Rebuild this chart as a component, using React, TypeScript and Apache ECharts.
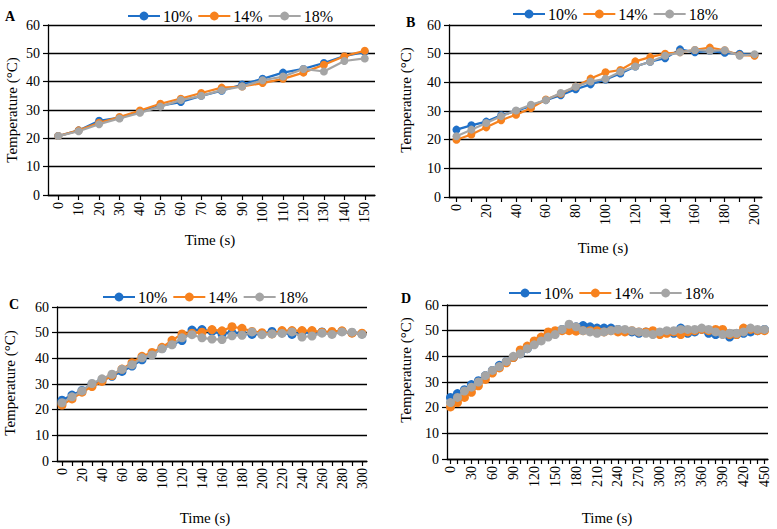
import React, { useEffect, useRef } from "react";
import * as echarts from "echarts";

// Temperature (°C) vs time (s) for three concentrations, four panels.
const seriesNames = ["10%", "14%", "18%"];
const colors = ["#1F70C8", "#F7821E", "#A5A5A5"];

// Panel A: 0–150 s
const timeA = [0, 10, 20, 30, 40, 50, 60, 70, 80, 90, 100, 110, 120, 130, 140, 150];
const a10 = [20.8, 22.8, 26.2, 27.3, 29.5, 31.5, 32.8, 35.0, 36.8, 39.0, 41.0, 43.2, 44.5, 46.6, 49.0, 50.5];
const a14 = [20.8, 22.8, 25.5, 27.5, 29.8, 32.2, 34.0, 36.0, 37.9, 38.3, 39.5, 41.0, 43.2, 46.0, 49.0, 50.9];
const a18 = [20.8, 22.5, 25.0, 27.0, 29.0, 31.2, 33.5, 35.0, 37.0, 38.3, 40.5, 41.8, 44.5, 43.6, 47.3, 48.2];

// Panel B: 0–200 s
const timeB = [0, 10, 20, 30, 40, 50, 60, 70, 80, 90, 100, 110, 120, 130, 140, 150, 160, 170, 180, 190, 200];
const b10 = [23.5, 25.0, 26.3, 28.5, 30.0, 31.8, 33.8, 35.5, 37.6, 39.3, 41.0, 43.1, 45.5, 47.2, 48.4, 51.5, 50.5, 51.0, 50.3, 50.0, 49.5];
const b14 = [20.0, 21.8, 24.3, 26.8, 28.7, 31.0, 34.0, 36.0, 38.5, 41.3, 43.5, 44.3, 47.3, 48.8, 50.0, 50.5, 51.3, 52.1, 51.2, 49.5, 49.3];
const b18 = [21.2, 23.5, 25.8, 28.2, 30.2, 32.2, 33.8, 36.3, 38.5, 40.3, 41.2, 43.7, 45.5, 47.2, 49.3, 50.5, 51.3, 51.0, 51.2, 49.3, 49.8];

// Panel C: 0–300 s
const timeC = [0, 10, 20, 30, 40, 50, 60, 70, 80, 90, 100, 110, 120, 130, 140, 150, 160, 170, 180, 190, 200, 210, 220, 230, 240, 250, 260, 270, 280, 290, 300];
const c10 = [23.7, 25.7, 27.5, 30.0, 31.5, 33.0, 34.9, 37.0, 39.4, 41.5, 43.8, 45.5, 46.9, 51.0, 51.2, 50.5, 49.5, 50.0, 49.5, 49.3, 49.5, 50.5, 50.0, 49.3, 50.0, 50.0, 50.3, 50.0, 50.5, 50.0, 49.5];
const c14 = [21.8, 24.2, 26.8, 29.0, 31.0, 33.3, 35.8, 38.3, 40.8, 42.3, 44.3, 47.0, 49.5, 49.8, 50.2, 51.2, 50.7, 52.3, 51.7, 50.5, 50.0, 49.5, 50.8, 50.8, 50.8, 50.8, 50.2, 50.5, 50.7, 49.8, 49.8];
const c18 = [22.7, 25.0, 27.3, 30.2, 32.0, 33.8, 35.7, 37.5, 40.2, 41.3, 43.7, 45.3, 48.0, 49.2, 48.0, 47.5, 47.3, 48.8, 49.0, 50.3, 49.2, 49.5, 49.7, 50.3, 48.3, 48.7, 49.8, 49.3, 50.3, 50.2, 49.3];

// Panel D: 0–450 s
const timeD = [0, 10, 20, 30, 40, 50, 60, 70, 80, 90, 100, 110, 120, 130, 140, 150, 160, 170, 180, 190, 200, 210, 220, 230, 240, 250, 260, 270, 280, 290, 300, 310, 320, 330, 340, 350, 360, 370, 380, 390, 400, 410, 420, 430, 440, 450];
const d10 = [24.0, 25.5, 27.0, 29.0, 30.5, 32.5, 34.5, 36.5, 38.0, 39.5, 41.0, 43.0, 45.0, 47.0, 48.5, 49.5, 50.5, 51.0, 51.5, 52.0, 51.5, 51.0, 51.0, 51.0, 50.5, 50.0, 49.5, 49.0, 49.5, 49.0, 49.0, 49.5, 49.0, 51.0, 49.0, 49.5, 50.5, 49.0, 48.5, 49.0, 47.5, 48.5, 49.0, 49.5, 50.0, 50.5];
const d14 = [20.3, 22.0, 24.0, 26.0, 28.5, 31.0, 33.5, 35.5, 37.5, 39.5, 42.5, 44.0, 46.0, 47.5, 49.5, 50.0, 50.0, 50.0, 49.8, 50.0, 50.0, 50.0, 49.5, 50.0, 49.5, 49.5, 50.0, 49.5, 49.5, 50.0, 48.5, 49.0, 49.5, 48.5, 49.5, 50.0, 50.5, 50.0, 50.5, 50.5, 48.5, 48.5, 51.0, 50.5, 50.0, 50.0];
const d18 = [22.0, 24.0, 26.5, 28.0, 30.0, 32.5, 34.5, 36.0, 38.0, 40.0, 41.0, 43.0, 44.5, 46.0, 47.5, 48.5, 50.5, 52.5, 51.5, 50.0, 49.5, 49.0, 49.5, 50.0, 50.5, 50.5, 50.0, 49.5, 49.0, 48.5, 49.5, 50.0, 50.0, 50.5, 50.5, 50.5, 51.0, 50.5, 49.5, 48.5, 49.0, 49.0, 49.5, 51.0, 50.5, 50.5];

const FONT = "'Liberation Serif', 'DejaVu Serif', serif";

type Panel = {
  letter: string;
  times: number[];
  values: number[][];
  grid: { left: number; top: number; width: number; height: number };
  labelInterval: number;
  legendLeft: number;
  legendTop: number;
  letterPos: [number, number];
  yNamePos: [number, number];
  xNamePos: [number, number];
  symbolSize: number;
};

const panels: Panel[] = [
  {
    letter: "A", times: timeA, values: [a10, a14, a18],
    grid: { left: 48, top: 25, width: 327, height: 170 }, labelInterval: 0,
    legendLeft: 122, legendTop: 3, letterPos: [5, 9], yNamePos: [12, 110], xNamePos: [210, 240], symbolSize: 8,
  },
  {
    letter: "B", times: timeB, values: [b10, b14, b18],
    grid: { left: 449, top: 25, width: 313, height: 172 }, labelInterval: 1,
    legendLeft: 507, legendTop: 1, letterPos: [406, 15], yNamePos: [406, 100], xNamePos: [603, 248], symbolSize: 8,
  },
  {
    letter: "C", times: timeC, values: [c10, c14, c18],
    grid: { left: 57, top: 307, width: 310, height: 154 }, labelInterval: 1,
    legendLeft: 97, legendTop: 284, letterPos: [9, 297], yNamePos: [10, 383], xNamePos: [205, 518], symbolSize: 9,
  },
  {
    letter: "D", times: timeD, values: [d10, d14, d18],
    grid: { left: 447, top: 305, width: 321, height: 154 }, labelInterval: 2,
    legendLeft: 503, legendTop: 280, letterPos: [401, 291], yNamePos: [406, 370], xNamePos: [607, 518], symbolSize: 9,
  },
];

export default function App() {
  const ref = useRef<HTMLDivElement>(null);

  useEffect(() => {
    if (!ref.current) return;
    const chart = echarts.init(ref.current, undefined, { renderer: "svg" });

    const grids = panels.map((p) => ({ ...p.grid, containLabel: false }));

    const xAxes = panels.map((p, i) => ({
      type: "category" as const,
      gridIndex: i,
      data: p.times.map(String),
      boundaryGap: true,
      axisLine: { show: true, lineStyle: { color: "#000", width: 1.3 } },
      axisTick: { show: true, alignWithLabel: true, interval: 0, length: 5, lineStyle: { color: "#000", width: 1.2 } },
      axisLabel: {
        interval: p.labelInterval,
        rotate: 90,
        margin: 7,
        color: "#000",
        fontFamily: FONT,
        fontSize: 14,
      },
      splitLine: { show: false },
    }));

    const yAxes = panels.map((p, i) => ({
      type: "value" as const,
      gridIndex: i,
      min: 0,
      max: 60,
      interval: 10,
      axisLine: { show: true, lineStyle: { color: "#000", width: 1.3 } },
      axisTick: { show: true, length: 5, lineStyle: { color: "#000", width: 1.2 } },
      axisLabel: { color: "#000", fontFamily: FONT, fontSize: 14, margin: 8 },
      splitLine: { show: true, lineStyle: { color: "#000", width: 1.4 } },
    }));

    const series: any[] = [];
    panels.forEach((p, i) => {
      seriesNames.forEach((name, k) => {
        series.push({
          type: "line",
          name,
          xAxisIndex: i,
          yAxisIndex: i,
          data: p.values[k],
          symbol: "circle",
          symbolSize: p.symbolSize,
          showSymbol: true,
          showAllSymbol: true,
          lineStyle: { color: colors[k], width: 2.2 },
          itemStyle: { color: colors[k] },
          z: 2 + k,
        });
      });
    });

    const legends = panels.map((p) => ({
      data: seriesNames,
      left: p.legendLeft,
      top: p.legendTop,
      width: 260,
      orient: "horizontal" as const,
      itemWidth: 32,
      itemHeight: 11,
      itemGap: 5,
      textStyle: { color: "#000", fontFamily: FONT, fontSize: 16, padding: [0, 0, 0, -2] },
    }));

    const graphics: any[] = [];
    panels.forEach((p) => {
      graphics.push({
        type: "text",
        left: p.letterPos[0],
        top: p.letterPos[1],
        style: { text: p.letter, font: `bold 14px ${FONT}`, fill: "#000" },
      });
      graphics.push({
        type: "text",
        x: p.yNamePos[0],
        y: p.yNamePos[1],
        rotation: Math.PI / 2,
        style: {
          text: "Temperature (°C)",
          font: `15px ${FONT}`,
          fill: "#000",
          align: "center",
          verticalAlign: "middle",
        },
      });
      graphics.push({
        type: "text",
        x: p.xNamePos[0],
        y: p.xNamePos[1],
        style: {
          text: "Time (s)",
          font: `15px ${FONT}`,
          fill: "#000",
          align: "center",
          verticalAlign: "middle",
        },
      });
    });

    chart.setOption({
      animation: false,
      backgroundColor: "#fff",
      grid: grids,
      xAxis: xAxes,
      yAxis: yAxes,
      legend: legends,
      series,
      graphic: graphics,
    });

    return () => chart.dispose();
  }, []);

  return (
    <div
      ref={ref}
      style={{ position: "absolute", left: 0, top: 0, width: 777, height: 529, background: "#fff" }}
    />
  );
}
